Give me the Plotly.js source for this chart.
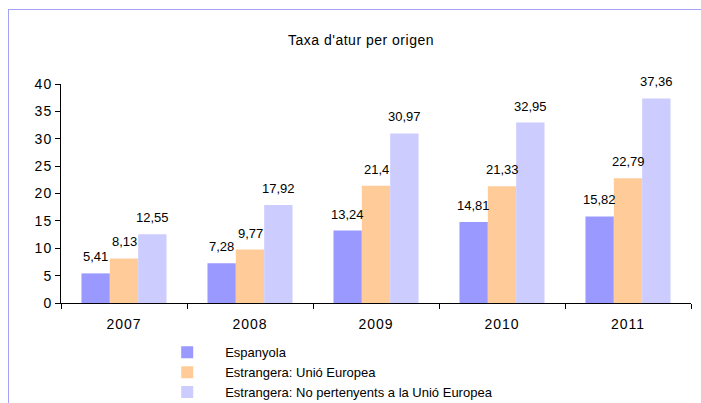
<!DOCTYPE html>
<html><head><meta charset="utf-8">
<script src="https://cdn.plot.ly/plotly-3.0.1.min.js"></script>
<style>
html,body{margin:0;padding:0;background:#fff;}
#wrap{position:relative;width:701px;height:403px;overflow:hidden;}
#chart{width:701px;height:403px;}
#frame{position:absolute;left:8px;top:9px;width:760px;height:460px;border:1px solid #a3a3f5;pointer-events:none;}
#chart .xtick text, #chart .ytick text {letter-spacing: 1px;}
#chart .gtitle {letter-spacing: 0.5px;}
</style></head>
<body><div id="wrap"><div id="chart"></div><div id="frame"></div></div>
<script>
const years = ['2007','2008','2009','2010','2011'];
const espanyola = [5.41, 7.28, 13.24, 14.81, 15.82];
const unioEuropea = [8.13, 9.77, 21.4, 21.33, 22.79];
const noUnioEuropea = [12.55, 17.92, 30.97, 32.95, 37.36];
const seriesNames = ['Espanyola', 'Estrangera: Unió Europea', 'Estrangera: No pertenyents a la Unió Europea'];
const colors = ['#9999ff', '#ffcc99', '#ccccff'];
const yTicks = [0,5,10,15,20,25,30,35,40];

const fmt = v => String(v).replace('.', ',');
const F = 'Liberation Sans, Arial, sans-serif';
const allSeries = [espanyola, unioEuropea, noUnioEuropea];
const traces = allSeries.map((vals, i) => ({
  type: 'bar', x: years, y: vals, name: seriesNames[i],
  marker: {color: colors[i], line: {width: 0}},
  hoverinfo: 'skip'
}));

// value labels placed above each bar via the axis scales (category index on x)
const plotW = 701 - 61 - 10;
const barW = plotW / years.length * (1 - 0.325) / allSeries.length;
const annotations = [];
allSeries.forEach((vals, i) => {
  vals.forEach((v, j) => {
    annotations.push({x: j, y: v, xref: 'x', yref: 'y', text: fmt(v), showarrow: false,
      xanchor: 'center', yanchor: 'bottom', xshift: (i - 1) * barW, yshift: 7,
      font: {family: F, size: 13, color: '#000'}});
  });
});

const layout = {
  width: 701, height: 403,
  margin: {l: 61, r: 10, t: 84, b: 100, autoexpand: false},
  paper_bgcolor: '#fff', plot_bgcolor: '#fff',
  font: {family: F, size: 14, color: '#000'},
  title: {text: "Taxa d'atur per origen", font: {family: F, size: 14, color: '#000'}, x: 0.515, xanchor: 'center', y: 0.9, yanchor: 'middle'},
  barmode: 'group', bargap: 0.325, bargroupgap: 0,
  showlegend: true,
  legend: {x: 0.14, xanchor: 'left', yref: 'container', y: 0.163, yanchor: 'top', orientation: 'v',
           font: {family: F, size: 13, color: '#000'}, itemwidth: 66, tracegroupgap: 0,
           bgcolor: 'rgba(0,0,0,0)'},
  annotations: annotations,
  xaxis: {type: 'category', range: [-0.5, years.length - 0.5], autorange: false, showline: true, linecolor: '#000', linewidth: 1,
          ticks: 'outside', tickson: 'boundaries', ticklen: 5, tickcolor: '#000',
          showgrid: false, zeroline: false, tickfont: {family: F, size: 14}, ticklabelstandoff: 8},
  yaxis: {range: [0, 40], tickvals: yTicks, ticktext: yTicks.map(String), showline: true, linecolor: '#000', linewidth: 1,
          ticks: 'outside', ticklen: 5, tickcolor: '#000', showgrid: false, zeroline: false,
          tickfont: {family: F, size: 14}}
};
Plotly.newPlot('chart', traces, layout, {staticPlot: true});
</script></body></html>
